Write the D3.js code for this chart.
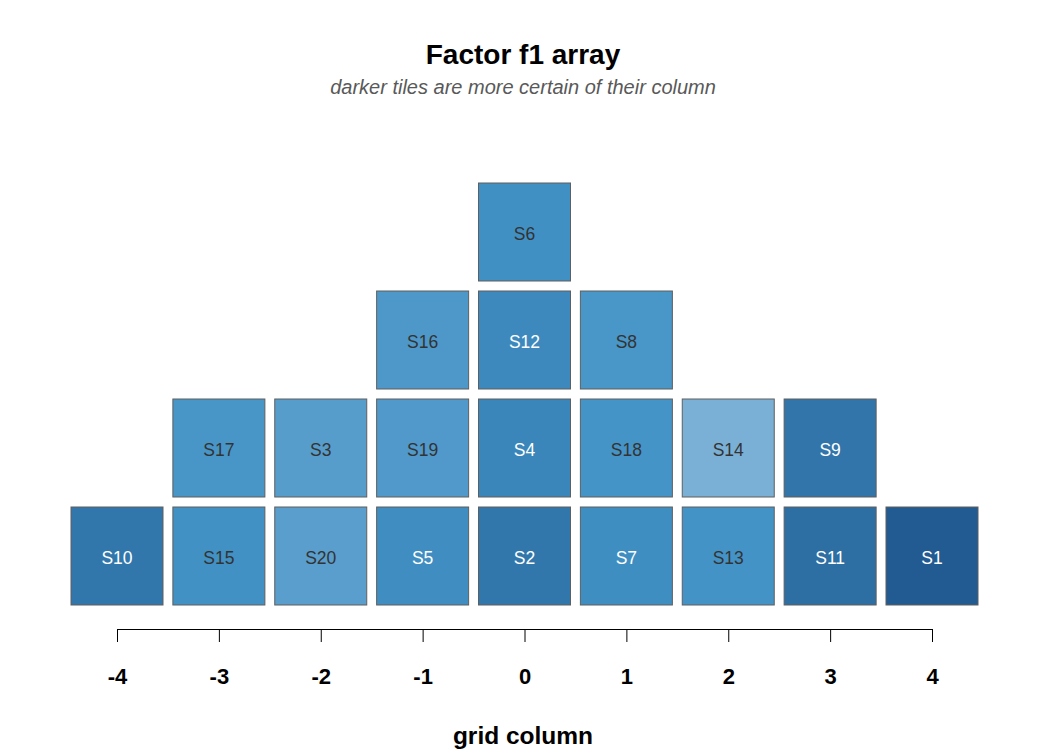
<!DOCTYPE html>
<html>
<head>
<meta charset="utf-8">
<script src="https://cdn.jsdelivr.net/npm/d3@7"></script>
<style>
  body { margin: 0; background: #fff; }
  svg { display: block; font-family: "Liberation Sans", Arial, sans-serif; }
</style>
</head>
<body>
<svg id="chart" width="1050" height="750"></svg>
<script>
// tiles listed column by column, bottom row first
const tileIds   = ['S10', 'S15', 'S17', 'S20', 'S3', 'S5', 'S19', 'S16', 'S2', 'S4', 'S12', 'S6',
                   'S7', 'S18', 'S8', 'S13', 'S14', 'S11', 'S9', 'S1'];
const tileCols  = [-4, -3, -3, -2, -2, -1, -1, -1, 0, 0, 0, 0, 1, 1, 1, 2, 2, 3, 3, 4];
// certainty of each tile for its column (0 = least, 1 = most)
const certainty = [0.75, 0.51, 0.45, 0.30, 0.32, 0.55, 0.38, 0.40, 0.75, 0.62, 0.58, 0.52,
                   0.54, 0.47, 0.44, 0.48, 0.0, 0.83, 0.76, 1.0];
const columnTicks = [-4, -3, -2, -1, 0, 1, 2, 3, 4];

const svg = d3.select('#chart');

// stack tiles within each column
const counts = {};
const tiles = tileIds.map((id, i) => {
    const c = tileCols[i];
    counts[c] = (counts[c] || 0);
    const row = counts[c]++;
    return { id: id, col: c, row: row, value: certainty[i] };
});

const x = d3.scaleLinear().domain([-4, 4]).range([117, 932]);
const y = d3.scaleLinear().domain([0, 1]).range([556, 448]);
const color = d3.scaleLinear()
    .domain([0, 0.5, 1])
    .range(['#7bb0d6', '#4292c6', '#225b91']);

const tileW = 92, tileH = 98;

// title and subtitle
svg.append('text')
    .attr('x', 523).attr('y', 64)
    .attr('text-anchor', 'middle')
    .attr('font-size', 28).attr('font-weight', 'bold')
    .text('Factor f1 array');

svg.append('text')
    .attr('x', 523).attr('y', 94)
    .attr('text-anchor', 'middle')
    .attr('font-size', 20).attr('font-style', 'italic')
    .attr('fill', '#595959')
    .text('darker tiles are more certain of their column');

// tiles
const g = svg.append('g').selectAll('g.tile')
    .data(tiles)
    .enter()
    .append('g')
    .attr('class', 'tile');

g.append('rect')
    .attr('x', d => x(d.col) - tileW / 2)
    .attr('y', d => y(d.row) - tileH / 2)
    .attr('width', tileW)
    .attr('height', tileH)
    .attr('fill', d => color(d.value))
    .attr('stroke', '#5f5f5f')
    .attr('stroke-width', 1);

g.append('text')
    .attr('x', d => x(d.col))
    .attr('y', d => y(d.row))
    .attr('dy', '0.47em')
    .attr('text-anchor', 'middle')
    .attr('font-size', 17.5)
    .attr('fill', d => d.value > 0.53 ? '#ffffff' : '#333333')
    .text(d => d.id);

// bottom axis
const axis = svg.append('g')
    .attr('transform', 'translate(0,629)')
    .call(d3.axisBottom(x)
        .tickValues(columnTicks)
        .tickFormat(d3.format('d'))
        .tickSize(13)
        .tickSizeOuter(0)
        .tickPadding(26));

axis.select('.domain').attr('stroke', '#000');
axis.selectAll('.tick line').attr('stroke', '#000');
axis.selectAll('.tick text')
    .attr('font-family', '"Liberation Sans", Arial, sans-serif')
    .attr('font-size', 22)
    .attr('font-weight', 'bold')
    .attr('fill', '#000')
    .text(d => d < 0 ? '-' + Math.abs(d) : d);

svg.append('text')
    .attr('x', 523).attr('y', 744)
    .attr('text-anchor', 'middle')
    .attr('font-size', 24.5).attr('font-weight', 'bold')
    .text('grid column');
</script>
</body>
</html>
